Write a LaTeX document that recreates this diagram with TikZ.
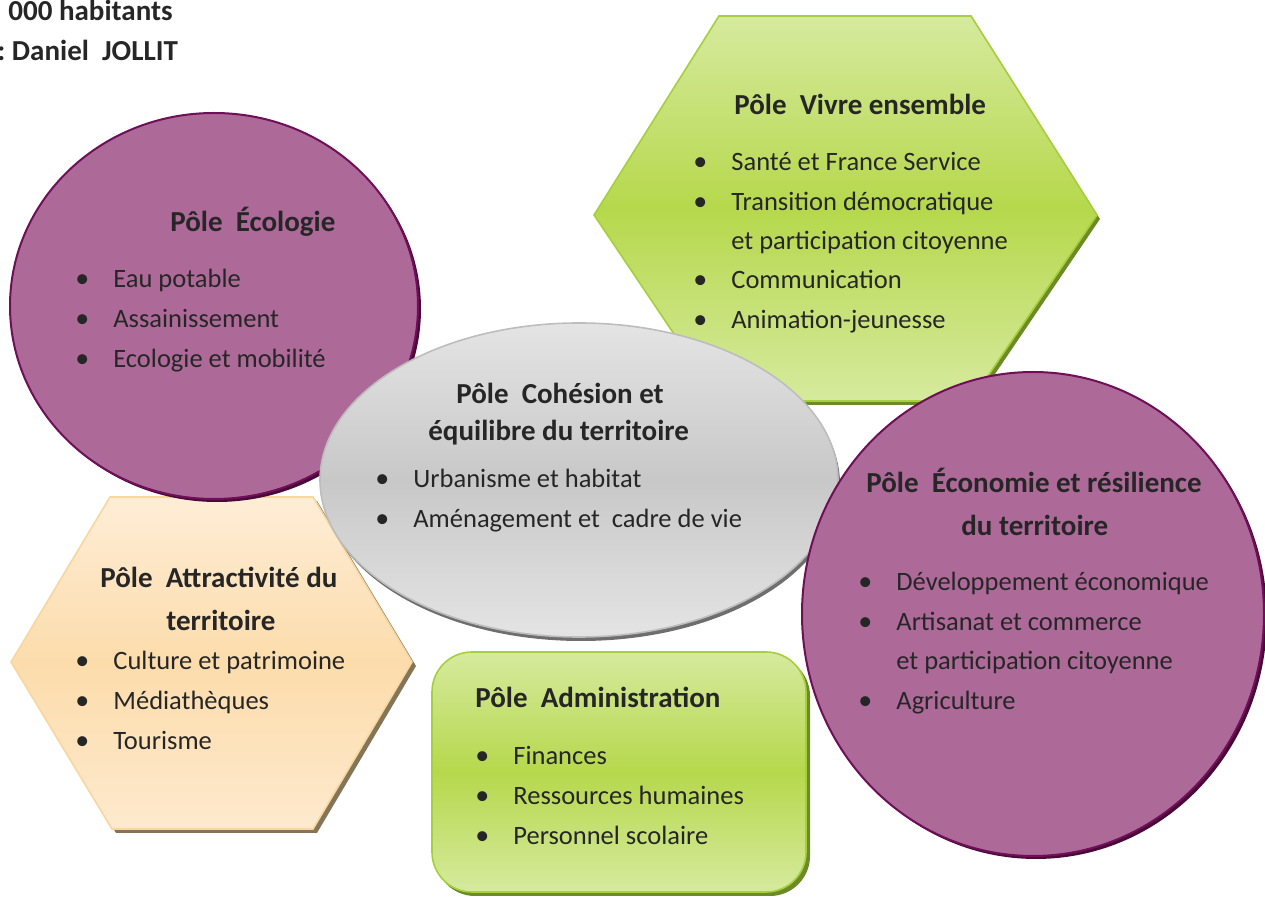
\documentclass[tikz,border=0pt]{standalone}
\usepackage{fontspec}
\setmainfont{Carlito}
\definecolor{txt}{HTML}{262626}
\definecolor{purp}{HTML}{AD6A99}
\definecolor{purpline}{HTML}{6E0F57}
\definecolor{purpshadow}{HTML}{4A0A38}
\definecolor{gtop}{HTML}{D6EA9E}
\definecolor{gmid}{HTML}{B6D84C}
\definecolor{gline}{HTML}{A5CF3C}
\definecolor{gshadow}{HTML}{6C8A26}
\definecolor{ptop}{HTML}{FEEDD6}
\definecolor{pmid}{HTML}{FCDCAB}
\definecolor{pline}{HTML}{F7D79F}
\definecolor{pshadow}{HTML}{857558}
\definecolor{gytop}{HTML}{E4E4E4}
\definecolor{gymid}{HTML}{C8C8C8}
\definecolor{gyline}{HTML}{BDBDBD}
\definecolor{gyshadow}{HTML}{6E6E6E}
\newcommand{\bulmark}{\llap{\makebox[19pt][l]{\fontsize{14pt}{14pt}\selectfont •}}}
\tikzset{
  item/.style={anchor=base west, inner sep=0pt, text=txt, font=\fontsize{13.25pt}{16pt}\selectfont},
  ttl/.style={anchor=base west, inner sep=0pt, text=txt, font=\fontsize{14.5pt}{17pt}\selectfont\bfseries},
  greenshape/.style={top color=gtop, bottom color=gtop, middle color=gmid, draw=gline, line width=0.8pt},
  peachshape/.style={top color=ptop, bottom color=ptop!80!pmid, middle color=pmid, draw=pline, line width=0.8pt},
  grayshape/.style={top color=gytop, bottom color=gytop, middle color=gymid, draw=gyline, line width=0.8pt},
  purpshape/.style={fill=purp, draw=purpline, line width=1pt}
}
\newcommand{\itm}[4]{\node[item] (#1) at (#2,#3) {\bulmark #4};}
\newcommand{\cnt}[4]{\node[item] (#1) at (#2,#3) {#4};}
\begin{document}
\begin{tikzpicture}[x=0.5pt,y=-0.5pt]
\useasboundingbox (0,0) rectangle (1265,897);

% header text
\node[ttl] (hab) at (8,21) {000 habitants};
\node[ttl] (jol) at (-3,61) {:~Daniel~~JOLLIT};

% ---- Attractivite hexagon
\fill[pshadow] (114,501) -- (317,501) -- (416,666) -- (317,833) -- (116,833) -- (15,666) -- cycle;
\path[peachshape] (110,497) -- (313,497) -- (412,662) -- (313,829) -- (112,829) -- (11,662) -- cycle;
\node[ttl] (at1) at (100,588) {Pôle~~Attractivité du};
\node[ttl] (at2) at (166,631) {territoire};
\itm{at3}{113}{670}{Culture et patrimoine}
\itm{at4}{113}{710}{Médiathèques}
\itm{at5}{113}{750}{Tourisme}

% ---- Ecologie circle
\fill[purpshadow] (217,309) ellipse [x radius=102pt, y radius=96.5pt];
\path[purpshape] (214,306) ellipse [x radius=102pt, y radius=96.5pt];
\node[ttl] (ec1) at (170,232) {Pôle~~Écologie};
\itm{ec2}{113}{288}{Eau potable}
\itm{ec3}{113}{328}{Assainissement}
\itm{ec4}{113}{368}{Ecologie et mobilité}

% ---- Vivre ensemble hexagon
\fill[gshadow] (722,20) -- (974,20) -- (1100,219) -- (974,405) -- (722,405) -- (597,219) -- cycle;
\path[greenshape] (719,16) -- (971,16) -- (1097,215) -- (971,401) -- (719,401) -- (594,215) -- cycle;
\node[ttl] (vi1) at (734,115) {Pôle~~Vivre ensemble};
\itm{vi2}{731}{171}{Santé et France Service}
\itm{vi3}{731}{211}{Transition démocratique}
\cnt{vi4}{731}{250}{et participation citoyenne}
\itm{vi5}{731}{289}{Communication}
\itm{vi6}{731}{329}{Animation-jeunesse}

% ---- Administration rounded rectangle
\fill[gshadow, rounded corners=20pt] (435,656) rectangle (810,896);
\path[greenshape, rounded corners=20pt] (432,652) rectangle (806,892);
\node[ttl] (ad1) at (475,708) {Pôle~~Administration};
\itm{ad2}{513}{765}{Finances}
\itm{ad3}{513}{805}{Ressources humaines}
\itm{ad4}{513}{845}{Personnel scolaire}

% ---- Cohesion ellipse
\fill[gyshadow] (581,484) ellipse [x radius=129.5pt, y radius=78.5pt];
\path[grayshape] (579,480) ellipse [x radius=129.5pt, y radius=78.5pt];
\node[ttl] (co1) at (456,404) {Pôle~~Cohésion et};
\node[ttl] (co2) at (428,441) {équilibre du territoire};
\itm{co3}{413}{488}{Urbanisme et habitat}
\itm{co4}{413}{528}{Aménagement et~~cadre de vie}

% ---- Economie circle
\fill[purpshadow] (1036,617) ellipse [x radius=115.5pt, y radius=121pt];
\path[purpshape] (1033,614) ellipse [x radius=115.5pt, y radius=121pt];
\node[ttl] (eo1) at (866,493) {Pôle~~Économie et résilience};
\node[ttl] (eo2) at (961,536) {du territoire};
\itm{eo3}{896}{591}{Développement économique}
\itm{eo4}{896}{631}{Artisanat et commerce}
\cnt{eo5}{896}{670}{et participation citoyenne}
\itm{eo6}{896}{710}{Agriculture}
\end{tikzpicture}
\end{document}
